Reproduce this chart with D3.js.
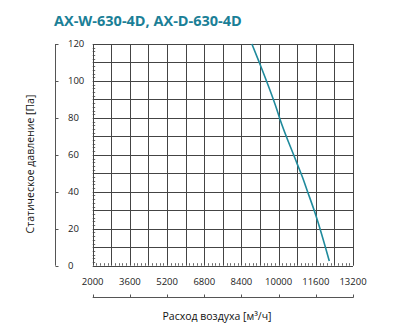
<!DOCTYPE html>
<html><head><meta charset="utf-8">
<script src="https://cdn.jsdelivr.net/npm/d3@7"></script>
<style>body{margin:0;background:#fff}svg{display:block}</style>
</head><body>
<script>
const title = "AX-W-630-4D, AX-D-630-4D";
const xTitle = "Расход воздуха [м³/ч]";
const yTitle = "Статическое давление [Па]";
const xTickLabels = [2000, 3600, 5200, 6800, 8400, 10000, 11600, 13200];
const yTickLabels = [0, 20, 40, 60, 80, 100, 120];
const flow = [8850, 9150, 9930, 10040, 10790, 11070, 11220, 11550, 12180];
const pressure = [120, 110.6, 84.3, 80, 55.4, 46.4, 41, 29.2, 2.5];

const W = 397, H = 327;
const svg = d3.select("body").append("svg").attr("width", W).attr("height", H);
const L = 92.7, R = 353, T = 44, B = 265.7;
const x = d3.scaleLinear().domain([2000, 13200]).range([L, R]);
const y = d3.scaleLinear().domain([0, 120]).range([B, T]);
const gridCol = "#444";
const font = "'Open Sans', sans-serif";

// grid
const g = svg.append("g");
g.selectAll(".vg").data(d3.range(2000, 13201, 800)).join("line")
  .attr("x1", d => Math.round(x(d)) + 0.5).attr("x2", d => Math.round(x(d)) + 0.5)
  .attr("y1", T).attr("y2", B).attr("stroke", gridCol).attr("stroke-width", 1);
g.selectAll(".hg").data(d3.range(0, 121, 10)).join("line")
  .attr("y1", d => Math.round(y(d)) + 0.5).attr("y2", d => Math.round(y(d)) + 0.5)
  .attr("x1", L).attr("x2", R).attr("stroke", gridCol).attr("stroke-width", 1);
// minor ticks
g.selectAll(".my").data(d3.range(0, 120, 2).filter(d => d % 10 !== 0)).join("line")
  .attr("y1", d => Math.round(y(d)) + 0.5).attr("y2", d => Math.round(y(d)) + 0.5)
  .attr("x1", L).attr("x2", L + 2.5).attr("stroke", gridCol).attr("stroke-width", 0.8);
g.selectAll(".mx").data(d3.range(2000, 13200, 160).filter(d => (d - 2000) % 800 !== 0)).join("line")
  .attr("x1", d => Math.round(x(d)) + 0.5).attr("x2", d => Math.round(x(d)) + 0.5)
  .attr("y1", B).attr("y2", B - 2.5).attr("stroke", gridCol).attr("stroke-width", 0.8);

// curve
const pts = flow.map((f, i) => [f, pressure[i]]);
svg.append("path").datum(pts)
  .attr("d", d3.line().x(d => x(d[0])).y(d => y(d[1])).curve(d3.curveMonotoneY))
  .attr("fill", "none").attr("stroke", "#1f8a9c").attr("stroke-width", 1.6);

// left bracket axis
const ax = 55.5;
svg.append("line").attr("x1", ax).attr("x2", ax).attr("y1", T).attr("y2", B)
  .attr("stroke", "#555").attr("stroke-width", 1);
svg.selectAll(".yt").data(yTickLabels).join("line")
  .attr("x1", ax).attr("x2", ax + 3).attr("y1", d => Math.round(y(d)) + 0.5).attr("y2", d => Math.round(y(d)) + 0.5)
  .attr("stroke", "#555");
svg.selectAll(".yl").data(yTickLabels).join("text")
  .attr("x", 68).attr("y", d => y(d)).attr("dy", "0.35em")
  .attr("font-family", font).attr("font-size", 9.5).attr("fill", "#222").text(d => d);

// bottom bracket axis
const by = 297.5;
svg.append("line").attr("x1", L).attr("x2", R + 0.5).attr("y1", by).attr("y2", by)
  .attr("stroke", "#555");
svg.selectAll(".xt").data(xTickLabels).join("line")
  .attr("x1", d => Math.round(x(d)) + 0.5).attr("x2", d => Math.round(x(d)) + 0.5)
  .attr("y1", by).attr("y2", by - 3).attr("stroke", "#555");
svg.selectAll(".xl").data(xTickLabels).join("text")
  .attr("x", d => x(d)).attr("y", 282).attr("dy", "0.35em").attr("text-anchor", "middle")
  .attr("font-family", font).attr("font-size", 9.5).attr("fill", "#222").text(d => d);

// titles
svg.append("text").attr("x", 54).attr("y", 21).attr("dy", "0.35em")
  .attr("font-family", font).attr("font-weight", "bold").attr("font-size", 14.5)
  .attr("fill", "#1b7f97").text(title);
svg.append("text").attr("x", 217).attr("y", 316).attr("dy", "0.35em").attr("text-anchor", "middle")
  .attr("font-family", font).attr("font-size", 10.5).attr("fill", "#111").text(xTitle);
svg.append("text").attr("transform", "translate(30,164) rotate(-90)").attr("dy", "0.35em")
  .attr("text-anchor", "middle")
  .attr("font-family", font).attr("font-size", 10.5).attr("fill", "#111").text(yTitle);
</script>
</body></html>
